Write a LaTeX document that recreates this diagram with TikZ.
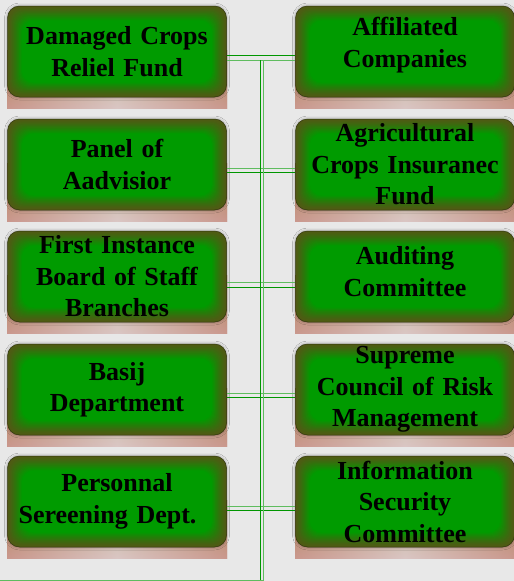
\documentclass[tikz,border=0pt]{standalone}
\usepackage{fontspec}
\setmainfont{Liberation Serif}
\usetikzlibrary{shadows.blur}
\definecolor{paper}{RGB}{232,232,232}
\definecolor{coreg}{RGB}{0,155,0}
\definecolor{rimg}{RGB}{80,90,20}
\definecolor{redb}{RGB}{182,95,75}
\definecolor{pinkg}{RGB}{218,198,196}
\definecolor{tang}{RGB}{170,175,95}
\definecolor{wire}{RGB}{0,150,0}
\definecolor{wirelt}{RGB}{95,188,95}
\newcommand{\panelfont}{\bfseries\fontsize{26}{31.5}\selectfont}

\begin{document}
\begin{tikzpicture}[x=1pt, y=-1pt,
        panel/.style={rounded corners=12pt, minimum width=219pt, minimum height=91pt,
            inner sep=0pt, text width=215pt, align=center, font=\panelfont,
            fill=rimg, draw=rimg!60!black, line width=.5pt,
            blur shadow={shadow xshift=0pt, shadow yshift=0pt, shadow blur radius=3pt, shadow opacity=35},
            path picture={
                \foreach \k in {1,...,16}{
                    \pgfmathsetmacro\mix{100*(\k/16)^1.3}
                    \fill[coreg!\mix!rimg]
                        ([shift={(\k*0.9pt,-\k*0.9pt)}]path picture bounding box.north west) rectangle
                        ([shift={(-\k*0.9pt,\k*0.9pt)}]path picture bounding box.south east);
                }
            }},
        mirror/.style={minimum width=220pt, minimum height=58pt, inner sep=0pt,
            left color=redb, right color=redb, middle color=pinkg,
            path picture={
                \shade[top color=tang, bottom color=pinkg, opacity=.55]
                    (path picture bounding box.north west) rectangle (path picture bounding box.south east);
            }},
        wire/.style={draw=wire, line width=1.3pt},
        wirelt/.style={draw=wirelt, line width=1.8pt},
        ]
    \fill[paper] (0,0) rectangle (514,581);
    \useasboundingbox (0,0) rectangle (514,581);

    % reflections under the boxes
    \foreach \y [count=\i] in {79,192,304,417,529} {
        \node (ml\i) [mirror] at (117,\y) {};
        \node (mr\i) [mirror] at (405,\y) {};
    }

    % left column
    \node (dmg) [panel] at (117,51.5)  {Damaged Crops\\Reliel Fund};
    \node (adv) [panel] at (117,164.5) {Panel of\\Aadvisior};
    \node (fib) [panel] at (117,276.5) {First Instance\\Board of Staff\\Branches};
    \node (bas) [panel] at (117,389.5) {Basij\\Department};
    \node (per) [panel] at (117,501.5) {Personnal\\\mbox{Sereening Dept.\kern19pt}};

    % right column
    \node (aff) [panel] at (405,51.5)  {Affiliated\\Companies\\[-13pt]\mbox{}};
    \node (agr) [panel] at (405,164.5) {Agricultural\\Crops Insuranec\\Fund};
    \node (aud) [panel] at (405,276.5) {Auditing\\Committee\\[-21pt]\mbox{}};
    \node (sup) [panel] at (405,389.5) {Supreme\\Council of Risk\\Management};
    \node (inf) [panel] at (405,501.5) {Information\\Security\\Committee};

    % connectors
    \foreach \a/\b/\s/\t/\u/\v in {dmg/aff/wire/wirelt/4/9, adv/agr/wirelt/wire/4/8,
            fib/aud/wirelt/wire/6/11, bas/sup/wirelt/wire/4/8, per/inf/wirelt/wire/5/9} {
        \draw[\s] ([yshift=-\u pt]\a.east) -- ([yshift=-\u pt]\b.west);
        \draw[\t] ([yshift=-\v pt]\a.east) -- ([yshift=-\v pt]\b.west);
    }
    \coordinate (trunk) at (260.5,60);
    \coordinate (root) at (260.5,581);
    \coordinate (feed) at (0,580.5);
    \draw[wire] (trunk) -- (root);
    \draw[wirelt] ([xshift=3pt]trunk) -- ([xshift=3pt]root);
    \draw[wirelt] (feed) -- ([xshift=3pt]root |- feed);
\end{tikzpicture}
\end{document}
